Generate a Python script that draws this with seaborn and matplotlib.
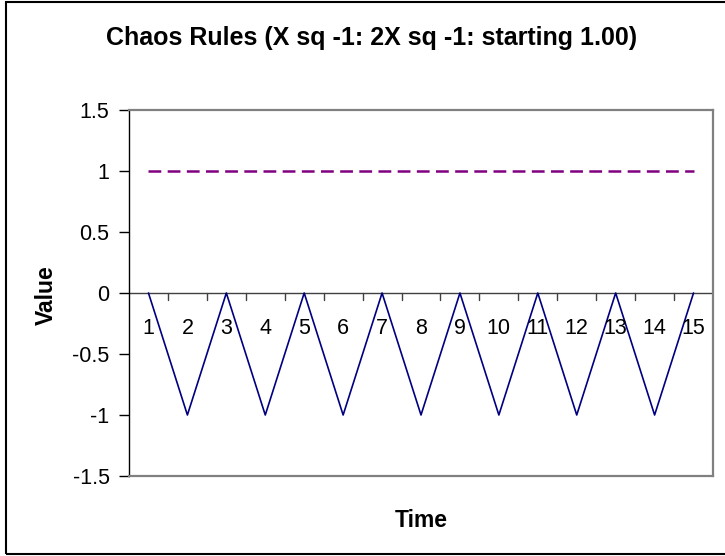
import matplotlib
matplotlib.use("Agg")
import matplotlib.pyplot as plt
import seaborn as sns
import pandas as pd
from matplotlib.patches import Rectangle

sns.set_theme(style="white")
plt.rcParams['font.family'] = ['Liberation Sans', 'DejaVu Sans']
plt.rcParams['lines.scale_dashes'] = False
plt.rcParams['text.color'] = 'black'
plt.rcParams['ytick.color'] = 'black'
plt.rcParams['xtick.color'] = 'black'

# Iterations of the two rules, starting at 1.00
time = list(range(1, 16))
rule_x_sq = [0, -1, 0, -1, 0, -1, 0, -1, 0, -1, 0, -1, 0, -1, 0]
rule_2x_sq = [1, 1, 1, 1, 1, 1, 1, 1, 1, 1, 1, 1, 1, 1, 1]
y_ticks = [-1.5, -1, -0.5, 0, 0.5, 1, 1.5]
y_tick_labels = ["-1.5", "-1", "-0.5", "0", "0.5", "1", "1.5"]

df = pd.DataFrame({"Time": time, "X sq -1": rule_x_sq, "2X sq -1": rule_2x_sq})

W, H = 725, 556
fig = plt.figure(figsize=(W / 100, H / 100), dpi=100)
left, right, top, bottom = 129, 713, 110, 476
ax = fig.add_axes([left / W, 1 - bottom / H, (right - left) / W, (bottom - top) / H])

sns.lineplot(data=df, x="Time", y="X sq -1", ax=ax, color="#000080", linewidth=1.2)
sns.lineplot(data=df, x="Time", y="2X sq -1", ax=ax, color="#800080", linewidth=1.8)
ax.lines[-1].set_dashes([9.2, 4.6])

ax.set_xlim(0.5, 15.5)
ax.set_ylim(-1.5, 1.5)

# Category axis crossing at zero, labels just beneath it, ticks between categories
ax.axhline(0, color="#404040", linewidth=1.0, zorder=1)
for t in time:
    ax.text(t, -0.287, str(t), ha="center", va="center", fontsize=15.5, color="black")
for b in range(1, 16):
    ax.plot([b + 0.5, b + 0.5], [0, -0.057], color="#404040", linewidth=1.0, zorder=1)
ax.set_xticks([])
ax.set_xlabel("")
ax.set_ylabel("")

ax.set_yticks(y_ticks)
ax.set_yticklabels(y_tick_labels, fontsize=15.5, color="black")
ax.tick_params(axis="y", direction="out", length=7, width=1, color="black", pad=7,
               left=True)

for side in ["top", "right", "bottom"]:
    ax.spines[side].set_color("#808080")
    ax.spines[side].set_linewidth(1.6)
ax.spines["left"].set_color("black")
ax.spines["left"].set_linewidth(1.0)

fig.text(372 / W, 1 - 44.5 / H, "Chaos Rules (X sq -1: 2X sq -1: starting 1.00)",
         fontsize=18, fontweight="bold", ha="center", va="baseline", color="black")
fig.text(421 / W, 1 - 527 / H, "Time", fontsize=16.5, fontweight="bold",
         ha="center", va="baseline", color="black")
fig.text(46 / W, 1 - 295 / H, "Value", fontsize=16.5, fontweight="bold",
         ha="center", va="center", rotation=90, color="black")

# Chart frame
fig.patches.append(Rectangle((6 / W, 2 / H), 1.0, 1 - 4 / H, transform=fig.transFigure,
                             fill=False, edgecolor="black", linewidth=1.5))

fig.savefig("out.png", dpi=100)
